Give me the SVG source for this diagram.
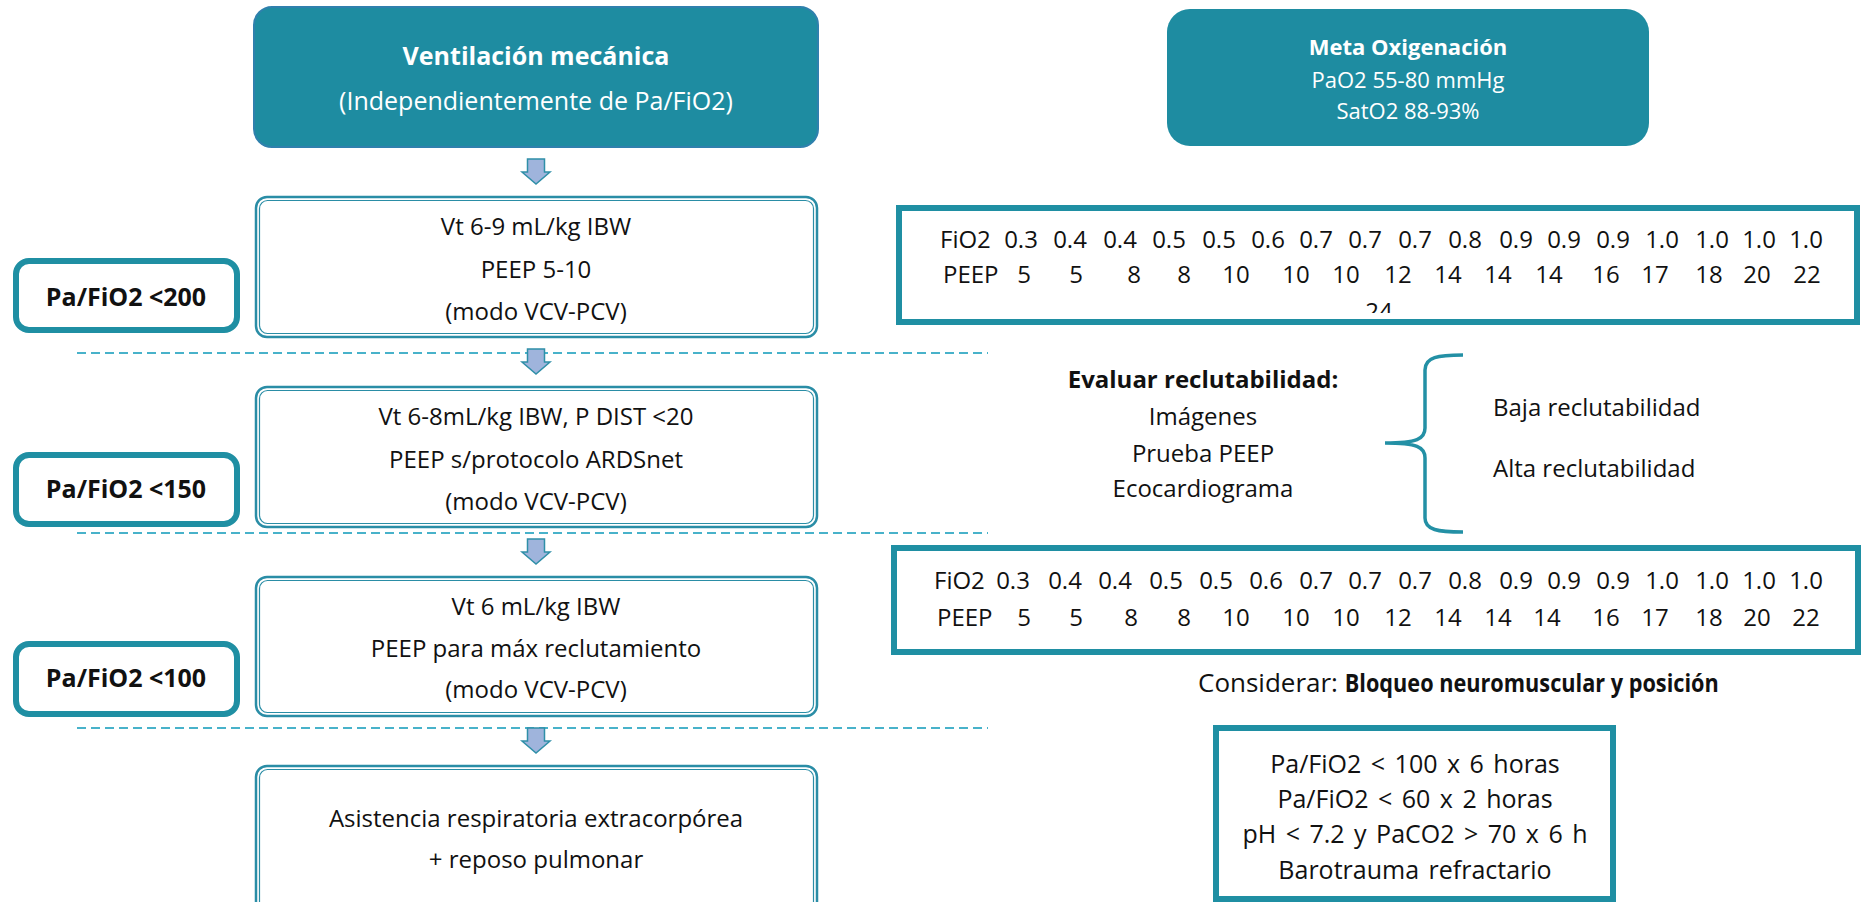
<svg xmlns="http://www.w3.org/2000/svg" width="1864" height="902" viewBox="0 0 1864 902">
<style>
text{font-family:"Open Sans","Noto Sans","Liberation Sans",sans-serif;fill:#111;}
.c{text-anchor:middle;}
.t{font-size:24px;}
.b{font-weight:bold;}
.w{fill:#ffffff;}
.head{fill:#1e8ca1;stroke:#2f80ad;stroke-width:2;}
.meta{fill:#1e8ca1;}
.dbl{fill:#ffffff;stroke:#2a8da6;stroke-width:2.5;}
.inner{fill:none;stroke:#2a8da6;stroke-width:1.2;}
.tag{fill:#ffffff;stroke:#1f8fa3;stroke-width:6;}
.tbl{fill:#ffffff;stroke:#1f8fa3;stroke-width:6;}
.dash{stroke:#48b2ca;stroke-width:2;stroke-dasharray:9 5;fill:none;}
.arr{fill:#9fb4dc;stroke:#2f8fa8;stroke-width:1.5;stroke-linejoin:miter;}
.brace{fill:none;stroke:#2390a5;stroke-width:3.5;}
.cr{font-size:25px;word-spacing:3px;}
</style>
<defs>
<path id="blk" d="M-8.5,0 H8.5 V13 H14 L0,25 L-14,13 H-8.5 Z"/>
<clipPath id="clip24"><rect x="900" y="290" width="960" height="23"/></clipPath>
</defs>

<g id="connectors">
<line class="dash" x1="77" y1="353" x2="988" y2="353"/>
<line class="dash" x1="77" y1="533" x2="988" y2="533"/>
<line class="dash" x1="77" y1="728" x2="988" y2="728"/>
<use href="#blk" class="arr" x="536" y="159"/>
<use href="#blk" class="arr" x="536" y="349"/>
<use href="#blk" class="arr" x="536" y="539"/>
<use href="#blk" class="arr" x="536" y="728"/>
<path class="brace" d="M1463,355 C1438,355 1425,357 1425,370 L1425,428 C1425,439 1417,443 1385,443 C1417,443 1425,447 1425,458 L1425,518 C1425,530 1438,532 1463,532"/>
</g>

<g id="ventilacion">
<rect class="head" x="254" y="7" width="564" height="140" rx="18"/>
<text class="c b w" x="536" y="65" font-size="25">Ventilación mecánica</text>
<text class="c w" x="536" y="110" font-size="25">(Independientemente de Pa/FiO2)</text>
</g>

<g id="box200">
<rect class="dbl" x="256" y="197" width="561" height="140" rx="11"/>
<rect class="inner" x="259.5" y="200.5" width="554" height="133" rx="8"/>
<text class="c t" x="536" y="235">Vt 6-9 mL/kg IBW</text>
<text class="c t" x="536" y="278">PEEP 5-10</text>
<text class="c t" x="536" y="320">(modo VCV-PCV)</text>
</g>

<g id="tag200">
<rect class="tag" x="16" y="261" width="221" height="69" rx="13"/>
<text class="c b" x="126" y="306" font-size="25">Pa/FiO2 &lt;200</text>
</g>

<g id="box150">
<rect class="dbl" x="256" y="387" width="561" height="140" rx="11"/>
<rect class="inner" x="259.5" y="390.5" width="554" height="133" rx="8"/>
<text class="c t" x="536" y="425">Vt 6-8mL/kg IBW, P DIST &lt;20</text>
<text class="c t" x="536" y="468">PEEP s/protocolo ARDSnet</text>
<text class="c t" x="536" y="510">(modo VCV-PCV)</text>
</g>

<g id="tag150">
<rect class="tag" x="16" y="455" width="221" height="69" rx="13"/>
<text class="c b" x="126" y="498" font-size="25">Pa/FiO2 &lt;150</text>
</g>

<g id="box100">
<rect class="dbl" x="256" y="577" width="561" height="139" rx="11"/>
<rect class="inner" x="259.5" y="580.5" width="554" height="132" rx="8"/>
<text class="c t" x="536" y="615">Vt 6 mL/kg IBW</text>
<text class="c t" x="536" y="657">PEEP para máx reclutamiento</text>
<text class="c t" x="536" y="698">(modo VCV-PCV)</text>
</g>

<g id="tag100">
<rect class="tag" x="16" y="644" width="221" height="70" rx="13"/>
<text class="c b" x="126" y="687" font-size="25">Pa/FiO2 &lt;100</text>
</g>

<g id="ecmo">
<rect class="dbl" x="256" y="766" width="561" height="150" rx="11"/>
<rect class="inner" x="259.5" y="769.5" width="554" height="143" rx="8"/>
<text class="c t" x="536" y="827">Asistencia respiratoria extracorpórea</text>
<text class="c t" x="536" y="868">+ reposo pulmonar</text>
</g>

<g id="meta">
<rect class="meta" x="1167" y="9" width="482" height="137" rx="23"/>
<text class="c b w" x="1408" y="55" font-size="22">Meta Oxigenación</text>
<text class="c w" x="1408" y="88" font-size="22">PaO2 55-80 mmHg</text>
<text class="c w" x="1408" y="119" font-size="22">SatO2 88-93%</text>
</g>

<g id="tabla1">
<rect class="tbl" x="899" y="208" width="958" height="114"/>
<text class="t" y="248"><tspan x="940">FiO2</tspan></text>
<text class="c t" y="248"><tspan x="1021">0.3</tspan><tspan x="1070">0.4</tspan><tspan x="1120">0.4</tspan><tspan x="1169">0.5</tspan><tspan x="1219">0.5</tspan><tspan x="1268">0.6</tspan><tspan x="1316">0.7</tspan><tspan x="1365">0.7</tspan><tspan x="1415">0.7</tspan><tspan x="1465">0.8</tspan><tspan x="1516">0.9</tspan><tspan x="1564">0.9</tspan><tspan x="1613">0.9</tspan><tspan x="1662">1.0</tspan><tspan x="1712">1.0</tspan><tspan x="1759">1.0</tspan><tspan x="1806">1.0</tspan></text>
<text class="t" y="283"><tspan x="943">PEEP</tspan></text>
<text class="c t" y="283"><tspan x="1024">5</tspan><tspan x="1076">5</tspan><tspan x="1134">8</tspan><tspan x="1184">8</tspan><tspan x="1236">10</tspan><tspan x="1296">10</tspan><tspan x="1346">10</tspan><tspan x="1398">12</tspan><tspan x="1448">14</tspan><tspan x="1498">14</tspan><tspan x="1549">14</tspan><tspan x="1606">16</tspan><tspan x="1655">17</tspan><tspan x="1709">18</tspan><tspan x="1757">20</tspan><tspan x="1807">22</tspan></text>
<text class="c t" x="1379" y="320" clip-path="url(#clip24)">24</text>
</g>

<g id="reclutabilidad">
<text class="c b t" x="1203" y="388">Evaluar reclutabilidad:</text>
<text class="c t" x="1203" y="425">Imágenes</text>
<text class="c t" x="1203" y="462">Prueba PEEP</text>
<text class="c t" x="1203" y="497">Ecocardiograma</text>
<text class="t" x="1493" y="416">Baja reclutabilidad</text>
<text class="t" x="1493" y="477">Alta reclutabilidad</text>
</g>

<g id="tabla2">
<rect class="tbl" x="894" y="548" width="964" height="104"/>
<text class="t" y="589"><tspan x="934">FiO2</tspan></text>
<text class="c t" y="589"><tspan x="1013">0.3</tspan><tspan x="1065">0.4</tspan><tspan x="1115">0.4</tspan><tspan x="1166">0.5</tspan><tspan x="1216">0.5</tspan><tspan x="1266">0.6</tspan><tspan x="1316">0.7</tspan><tspan x="1365">0.7</tspan><tspan x="1415">0.7</tspan><tspan x="1465">0.8</tspan><tspan x="1516">0.9</tspan><tspan x="1564">0.9</tspan><tspan x="1613">0.9</tspan><tspan x="1662">1.0</tspan><tspan x="1712">1.0</tspan><tspan x="1759">1.0</tspan><tspan x="1806">1.0</tspan></text>
<text class="t" y="626"><tspan x="937">PEEP</tspan></text>
<text class="c t" y="626"><tspan x="1024">5</tspan><tspan x="1076">5</tspan><tspan x="1131">8</tspan><tspan x="1184">8</tspan><tspan x="1236">10</tspan><tspan x="1296">10</tspan><tspan x="1346">10</tspan><tspan x="1398">12</tspan><tspan x="1448">14</tspan><tspan x="1498">14</tspan><tspan x="1547">14</tspan><tspan x="1606">16</tspan><tspan x="1655">17</tspan><tspan x="1709">18</tspan><tspan x="1757">20</tspan><tspan x="1806">22</tspan></text>
</g>

<g id="considerar">
<text x="1198" y="692" font-size="26">Considerar: <tspan class="b" font-size="25" textLength="374" lengthAdjust="spacingAndGlyphs">Bloqueo neuromuscular y posición</tspan></text>
</g>

<g id="criterios">
<rect class="tbl" x="1216" y="728" width="397" height="171"/>
<text class="c cr" x="1415" y="773">Pa/FiO2 &lt; 100 x 6 horas</text>
<text class="c cr" x="1415" y="808">Pa/FiO2 &lt; 60 x 2 horas</text>
<text class="c cr" x="1415" y="843">pH &lt; 7.2 y PaCO2 &gt; 70 x 6 h</text>
<text class="c cr" x="1415" y="879">Barotrauma refractario</text>
</g>
</svg>
